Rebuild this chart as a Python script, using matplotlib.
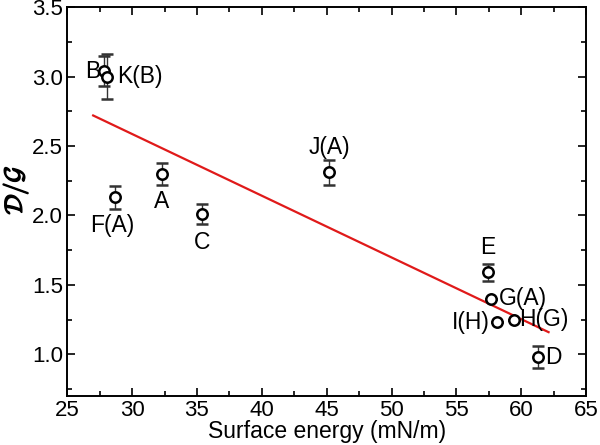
import matplotlib
matplotlib.use("Agg")
import matplotlib.pyplot as plt
import matplotlib.patheffects as pe
from matplotlib.ticker import MultipleLocator, FormatStrFormatter

plt.rcParams['font.family'] = ['Liberation Sans', 'DejaVu Sans']
plt.rcParams['mathtext.fontset'] = 'cm'

# data
labels = ['B', 'K(B)', 'F(A)', 'A', 'C', 'J(A)', 'E', 'G(A)', 'I(H)', 'H(G)', 'D']
energy = [27.8, 28.1, 28.7, 32.3, 35.4, 45.2, 57.4, 57.7, 58.1, 59.4, 61.3]
ratio = [3.04, 3.00, 2.13, 2.30, 2.01, 2.31, 1.59, 1.40, 1.23, 1.25, 0.98]
err = [0.11, 0.16, 0.08, 0.08, 0.07, 0.09, 0.06, 0.0, 0.0, 0.0, 0.08]

# label offsets in points (dx, dy) and alignment
offsets = [(-2, 0, 'right', 'center'), (7, 0, 'left', 'center'),
           (-2, -12, 'center', 'top'), (0, -12, 'center', 'top'),
           (0, -12, 'center', 'top'), (0, 10, 'center', 'bottom'),
           (0, 10, 'center', 'bottom'), (5, 0, 'left', 'center'),
           (-5, 0, 'right', 'center'), (4, 0, 'left', 'center'),
           (5, 0, 'left', 'center')]

fit_x = [27.0, 62.1]
fit_y = [2.72, 1.16]

fig = plt.figure(figsize=(6, 4.45), dpi=100)
ax = fig.add_axes([0.112, 0.110, 0.865, 0.874])

ax.plot(fit_x, fit_y, color='#e01a1a', lw=1.6, zorder=2)
ax.errorbar(energy, ratio, yerr=err, fmt='o', mfc='white', mec='black',
            mew=1.8, ms=7.5, ecolor='#333333', elinewidth=1.0, capsize=4,
            capthick=1.0, zorder=3)

for lab, x, y, (dx, dy, ha, va) in zip(labels, energy, ratio, offsets):
    ax.annotate(lab, (x, y), xytext=(dx, dy), textcoords='offset points',
                ha=ha, va=va, fontsize=16.5)

ax.set_xlim(25, 65)
ax.set_ylim(0.7, 3.5)
ax.xaxis.set_major_locator(MultipleLocator(5))
ax.xaxis.set_minor_locator(MultipleLocator(2.5))
ax.yaxis.set_major_locator(MultipleLocator(0.5))
ax.yaxis.set_minor_locator(MultipleLocator(0.25))
ax.yaxis.set_major_formatter(FormatStrFormatter('%.1f'))
ax.tick_params(which='both', direction='in', top=True, right=True, width=1.2)
ax.tick_params(which='major', length=6, labelsize=16, pad=3)
ax.tick_params(which='minor', length=3.5)
for s in ax.spines.values():
    s.set_linewidth(1.4)

ax.set_xlabel('Surface energy (mN/m)', fontsize=16.5, labelpad=-1)
ax.set_ylabel(r'$\mathcal{D}/\mathcal{G}$', fontsize=18,
              path_effects=[pe.withStroke(linewidth=1.0, foreground='black')])
ax.yaxis.set_label_coords(-0.072, 0.53)

fig.savefig('out.png', dpi=100)
